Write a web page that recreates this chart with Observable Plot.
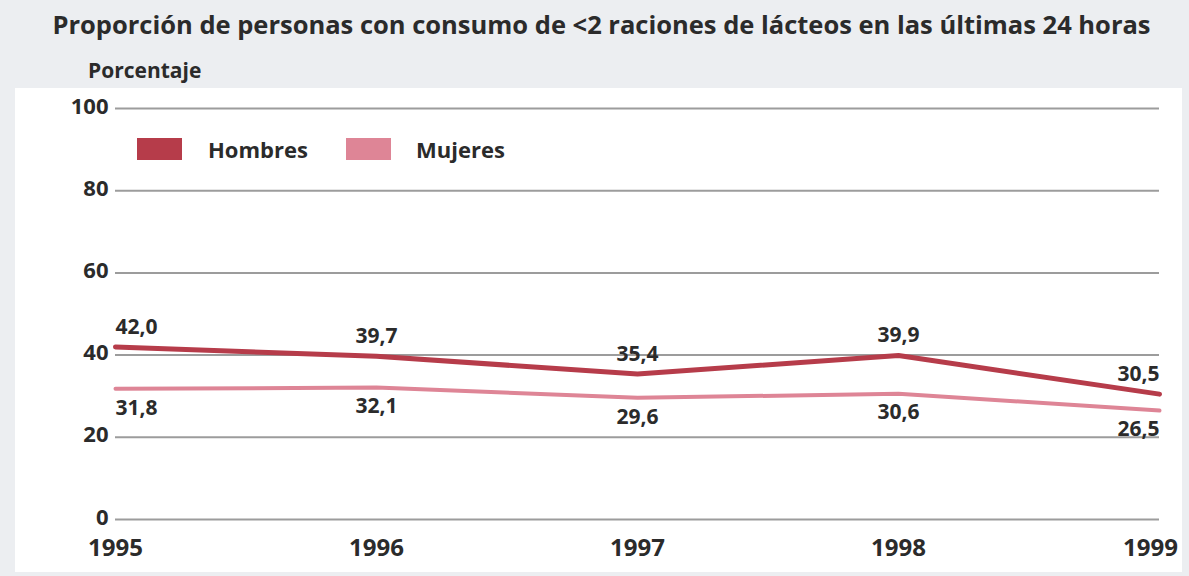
<!DOCTYPE html>
<html><head><meta charset="utf-8">
<script src="https://cdn.jsdelivr.net/npm/d3@7"></script>
<script src="https://cdn.jsdelivr.net/npm/@observablehq/plot@0.6"></script>
<style>
body{margin:0;background:#eceef1;font-family:"Open Sans",sans-serif;color:#2b2b2b;}
#wrap{position:relative;width:1189px;height:576px;overflow:hidden;}
#title{position:absolute;left:0;top:7px;width:1189px;padding-left:14px;box-sizing:border-box;text-align:center;font-weight:700;font-size:25.5px;white-space:nowrap;}
#ylab{position:absolute;left:88px;top:56px;font-weight:700;font-size:21px;}
#panel{position:absolute;left:15px;top:88px;width:1167px;height:484px;background:#fff;}
#chart{position:absolute;left:0;top:88px;}
.sw{position:absolute;width:45px;height:22px;}
.lt{position:absolute;font-weight:700;font-size:22px;}
</style></head>
<body>
<div id="wrap">
  <div id="title">Proporción de personas con consumo de &lt;2 raciones de lácteos en las últimas 24 horas</div>
  <div id="ylab">Porcentaje</div>
  <div id="panel"></div>
  <div id="chart"></div>
  <div id="legend"></div>
</div>
<script>
const years = [1995, 1996, 1997, 1998, 1999];
const hombres = [42.0, 39.7, 35.4, 39.9, 30.5];
const mujeres = [31.8, 32.1, 29.6, 30.6, 26.5];
const seriesNames = ["Hombres", "Mujeres"];
const seriesColors = ["#b63c4a", "#de8596"];
const yTicks = [0, 20, 40, 60, 80, 100];

const rows = [];
years.forEach((yr, i) => {
  rows.push({year: yr, value: hombres[i], series: "Hombres"});
  rows.push({year: yr, value: mujeres[i], series: "Mujeres"});
});
const fmt = v => v.toFixed(1).replace(".", ",");
const first = years[0], last = years[years.length - 1];

function labelMarks(name, dy) {
  const base = {x: "year", y: "value", text: d => fmt(d.value), dy,
    fontSize: 21, fontWeight: 700, fill: "#2b2b2b"};
  return [
    Plot.text(rows, {...base, filter: d => d.series === name && d.year === first, textAnchor: "start"}),
    Plot.text(rows, {...base, filter: d => d.series === name && d.year !== first && d.year !== last, textAnchor: "middle"}),
    Plot.text(rows, {...base, filter: d => d.series === name && d.year === last, textAnchor: "end"})
  ];
}

const chart = Plot.plot({
  width: 1189, height: 488,
  marginTop: 20, marginBottom: 57, marginLeft: 115, marginRight: 30,
  x: {domain: [first, last]},
  y: {domain: [0, 100]},
  color: {domain: seriesNames, range: seriesColors},
  style: {background: "transparent", fontFamily: "Open Sans", color: "#2b2b2b", overflow: "visible"},
  marks: [
    Plot.ruleY(yTicks, {stroke: "#9c9c9c", strokeWidth: 2}),
    Plot.axisY({ticks: yTicks, tickSize: 0, tickPadding: 7, fontSize: 22, fontWeight: 700, label: null, dy: -2}),
    Plot.axisX({ticks: years.slice(0, -1), tickFormat: d => String(d), tickSize: 0, tickPadding: 19, fontSize: 24, fontWeight: 700, label: null}),
    Plot.axisX({ticks: [last], tickFormat: d => String(d), tickSize: 0, tickPadding: 19, fontSize: 24, fontWeight: 700, label: null, dx: -9}),
    Plot.line(rows, {filter: d => d.series === "Mujeres", x: "year", y: "value", stroke: "series", strokeWidth: 4}),
    Plot.line(rows, {filter: d => d.series === "Hombres", x: "year", y: "value", stroke: "series", strokeWidth: 5}),
    ...labelMarks("Hombres", -20),
    ...labelMarks("Mujeres", 19)
  ]
});
document.getElementById("chart").appendChild(chart);

// legend
const leg = document.getElementById("legend");
const legPos = [{sw: 137, tx: 208}, {sw: 346, tx: 416}];
seriesNames.forEach((n, i) => {
  const s = document.createElement("div");
  s.className = "sw";
  s.style.left = legPos[i].sw + "px";
  s.style.top = "138px";
  s.style.background = seriesColors[i];
  leg.appendChild(s);
  const t = document.createElement("div");
  t.className = "lt";
  t.style.left = legPos[i].tx + "px";
  t.style.top = "134px";
  t.textContent = n;
  leg.appendChild(t);
});
</script>
</body></html>
